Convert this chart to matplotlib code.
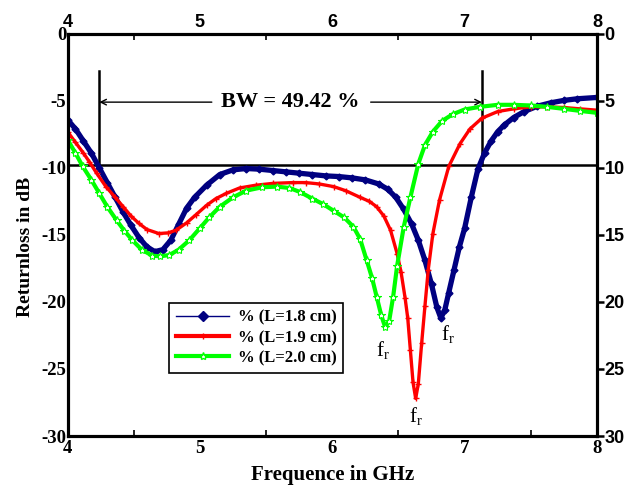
import matplotlib.pyplot as plt
from matplotlib.lines import Line2D

plt.rcParams['mathtext.fontset'] = 'custom'
plt.rcParams['mathtext.rm'] = 'Liberation Serif'

# L = 1.8 cm
freq_18 = [4.00, 4.06, 4.12, 4.18, 4.24, 4.30, 4.36, 4.42, 4.48, 4.54, 4.60, 4.66,
           4.72, 4.78, 4.84, 4.90, 4.96, 5.05, 5.15, 5.25, 5.35, 5.45, 5.55, 5.65,
           5.75, 5.85, 5.95, 6.05, 6.15, 6.25, 6.35, 6.42, 6.48, 6.54, 6.60, 6.65,
           6.70, 6.75, 6.79, 6.82, 6.85, 6.88, 6.92, 6.96, 7.00, 7.05, 7.10, 7.15,
           7.20, 7.25, 7.30, 7.37, 7.45, 7.55, 7.65, 7.75, 7.85, 8.00]
rl_18 = [-6.4, -7.1, -8.0, -8.9, -10.0, -11.1, -12.2, -13.3, -14.3, -15.2, -15.9, -16.25,
         -16.1, -15.4, -14.2, -13.0, -12.2, -11.3, -10.5, -10.15, -10.05, -10.1, -10.2, -10.3,
         -10.4, -10.5, -10.6, -10.65, -10.75, -10.9, -11.2, -11.6, -12.2, -13.1, -14.2, -15.4,
         -16.9, -18.7, -20.4, -21.2, -20.6, -19.3, -17.6, -15.9, -14.5, -12.2, -10.1, -8.9,
         -8.0, -7.3, -6.8, -6.25, -5.8, -5.4, -5.15, -4.97, -4.85, -4.75]

# L = 1.9 cm
freq_19 = [4.00, 4.06, 4.12, 4.165, 4.22, 4.29, 4.36, 4.42, 4.48, 4.54, 4.60, 4.69,
           4.76, 4.82, 4.90, 4.97, 5.05, 5.12, 5.20, 5.30, 5.42, 5.55, 5.70, 5.80,
           5.90, 6.01, 6.10, 6.21, 6.28, 6.335, 6.39, 6.44, 6.49, 6.52, 6.55, 6.57,
           6.59, 6.61, 6.63, 6.65, 6.675, 6.70, 6.725, 6.76, 6.81, 6.88, 6.965, 7.04,
           7.13, 7.25, 7.37, 7.50, 7.62, 7.75, 7.87, 8.00]
rl_19 = [-7.3, -8.1, -8.9, -9.55, -10.4, -11.4, -12.2, -12.9, -13.6, -14.15, -14.6, -14.9,
         -14.85, -14.65, -14.1, -13.5, -12.8, -12.3, -11.9, -11.5, -11.3, -11.16, -11.1, -11.1,
         -11.2, -11.4, -11.7, -12.2, -12.5, -12.9, -13.6, -14.65, -16.4, -17.8, -19.7, -21.2,
         -23.6, -26.0, -27.2, -26.1, -23.1, -20.3, -17.6, -14.9, -12.4, -9.9, -8.2, -7.1,
         -6.3, -5.8, -5.6, -5.45, -5.45, -5.5, -5.6, -5.7]

# L = 2.0 cm
freq_20 = [4.00, 4.06, 4.115, 4.18, 4.24, 4.30, 4.37, 4.43, 4.49, 4.56, 4.64, 4.70,
           4.77, 4.84, 4.92, 5.00, 5.07, 5.15, 5.25, 5.35, 5.47, 5.58, 5.675, 5.756,
           5.85, 5.93, 6.01, 6.09, 6.16, 6.21, 6.26, 6.30, 6.335, 6.37, 6.40, 6.43,
           6.46, 6.49, 6.54, 6.59, 6.65, 6.70, 6.76, 6.83, 6.91, 7.00, 7.115, 7.25,
           7.37, 7.50, 7.62, 7.75, 7.87, 8.00]
rl_20 = [-7.9, -8.9, -9.9, -10.9, -11.9, -12.9, -13.9, -14.7, -15.4, -16.1, -16.55, -16.6,
         -16.5, -16.1, -15.4, -14.5, -13.7, -12.9, -12.2, -11.7, -11.45, -11.4, -11.5, -11.8,
         -12.3, -12.7, -13.2, -13.7, -14.4, -15.3, -16.9, -18.2, -19.6, -21.0, -21.9, -21.4,
         -19.6, -17.3, -14.4, -12.2, -9.7, -8.3, -7.3, -6.5, -6.0, -5.65, -5.45, -5.3,
         -5.3, -5.35, -5.45, -5.6, -5.75, -5.9]

labels = ['% (L=1.8 cm)', '% (L=1.9 cm)', '% (L=2.0 cm)']
bw_edges = [4.24, 7.13]
bw_level = -9.8

serif = 'Liberation Serif'
sans = 'Liberation Sans'

fig = plt.figure(figsize=(6.27, 4.87), dpi=100)
ax = fig.add_axes([0.1077, 0.1047, 0.8445, 0.826])

ax.plot(freq_18, rl_18, color='#000080', lw=3.8, marker='D', ms=3.5, zorder=3)
ax.plot(freq_19, rl_19, color='#ff0000', lw=2.4, marker='+', ms=5, mew=1, zorder=4)
ax.plot(freq_20, rl_20, color='#00ff00', lw=3.0, marker='*', ms=6, mfc='white',
        mec='#00ff00', mew=0.8, zorder=5)

# -10 dB reference and bandwidth markers
ax.axhline(bw_level, color='black', lw=1.8, zorder=2)
for x in bw_edges:
    ax.plot([x, x], [bw_level, -2.8], color='black', lw=1.8, zorder=2)
ax.annotate('', xy=(bw_edges[0], -5.1), xytext=(5.09, -5.1),
            arrowprops=dict(arrowstyle='->', lw=1, color='black', shrinkA=0, shrinkB=0))
ax.annotate('', xy=(bw_edges[1], -5.1), xytext=(6.29, -5.1),
            arrowprops=dict(arrowstyle='->', lw=1, color='black', shrinkA=0, shrinkB=0))
ax.text(5.68, -5.1, 'BW = 49.42 %', family=serif, weight='bold', fontsize=16,
        ha='center', va='center')

for fx, fy in [(6.38, -23.6), (6.63, -28.5), (6.87, -22.4)]:
    ax.text(fx, fy, r'$\mathrm{f_r}$', fontsize=15, ha='center', va='center')

ax.set_xlim(4, 8)
ax.set_ylim(-30, 0)
ax.set_xticks([4, 5, 6, 7, 8])
ax.set_xticks([4.5, 5.5, 6.5, 7.5], minor=True)
ax.set_xticklabels(['4', '5', '6', '7', '8'], family=serif, weight='bold', fontsize=13.5)
ax.set_yticks(range(-30, 1, 5))
ax.set_yticklabels([str(v) for v in range(-30, 1, 5)], family=serif, weight='bold',
                   fontsize=13.5)
ax.tick_params(axis='x', which='major', length=0, pad=3)
ax.tick_params(axis='x', which='minor', direction='in', length=4, width=1.2)
ax.tick_params(axis='y', length=0, pad=1)

ax_r = ax.twinx()
ax_r.set_ylim(-30, 0)
ax_r.set_yticks(range(-30, 1, 5))
ax_r.set_yticklabels([str(abs(v)) for v in range(-30, 1, 5)], family=sans,
                     weight='bold', fontsize=13)
ax_r.tick_params(axis='y', direction='out', length=5, width=1.8, pad=0.5)

ax_t = ax.twiny()
ax_t.set_xlim(4, 8)
ax_t.set_xticks([4, 5, 6, 7, 8])
ax_t.set_xticks([4.5, 5.5, 6.5, 7.5], minor=True)
ax_t.set_xticklabels(['4', '5', '6', '7', '8'], family=sans, weight='bold', fontsize=13)
ax_t.tick_params(axis='x', which='major', length=0, pad=2)
ax_t.tick_params(axis='x', which='minor', direction='in', length=4, width=1.2)

for a in (ax, ax_r, ax_t):
    for s in a.spines.values():
        s.set_linewidth(2.2)

handles = [
    Line2D([], [], color='#000080', lw=1, marker='D', ms=5),
    Line2D([], [], color='#ff0000', lw=3, marker='+', ms=5, mew=1),
    Line2D([], [], color='#00ff00', lw=3, marker='*', ms=6, mfc='white', mec='#00ff00'),
]
leg = ax_t.legend(handles, labels, loc='lower left', bbox_to_anchor=(0.192, 0.157),
                  bbox_transform=ax.transAxes, borderaxespad=0, fancybox=False,
                  framealpha=1, edgecolor='black', handlelength=3.2, handletextpad=0.5,
                  borderpad=0.4, labelspacing=0.25,
                  prop={'family': serif, 'weight': 'bold', 'size': 12})
leg.get_frame().set_linewidth(1.2)

fig.text(0.53, 0.0246, 'Frequence in GHz', family=serif, weight='bold', fontsize=15,
         ha='center', va='center')
fig.text(0.04, 0.492, 'Returnloss in dB', family=serif, weight='bold', fontsize=14,
         ha='center', va='center', rotation=90)

fig.savefig('out.png', dpi=100)
